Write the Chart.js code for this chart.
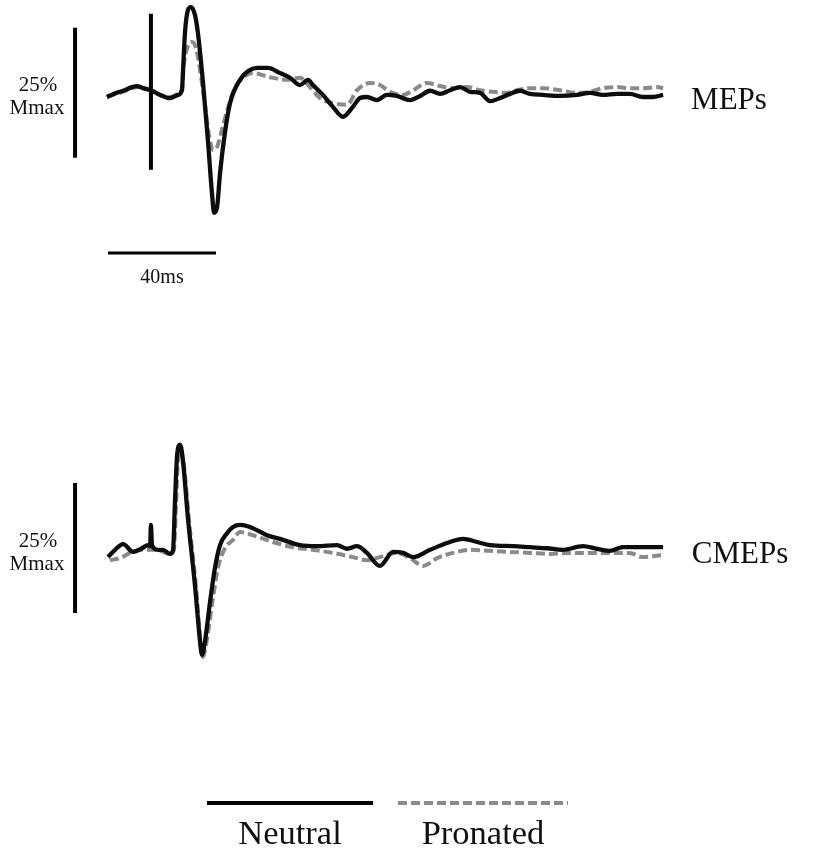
<!DOCTYPE html>
<html>
<head>
<meta charset="utf-8">
<script src="https://cdn.jsdelivr.net/npm/chart.js@4.4.1/dist/chart.umd.min.js"></script>
<style>
  html, body { margin: 0; padding: 0; background: #fff; }
  #wrap { position: relative; width: 819px; height: 850px; overflow: hidden; font-family: "Liberation Serif", "Times New Roman", serif; color: #111; }
  #wrap canvas { position: absolute; left: 0; }
  .lbl { position: absolute; white-space: nowrap; line-height: 1; transform: translate(-50%, -50%); }
</style>
</head>
<body>
<div id="wrap">
  <canvas id="mepChart" width="819" height="420" style="top:0"></canvas>
  <canvas id="cmepChart" width="819" height="430" style="top:420px"></canvas>

  <div class="lbl" style="left:38px;top:84px;font-size:21px">25%</div>
  <div class="lbl" style="left:37px;top:107px;font-size:21px">Mmax</div>
  <div class="lbl" style="left:162px;top:276px;font-size:20px">40ms</div>
  <div class="lbl" style="left:729px;top:98px;font-size:31px">MEPs</div>

  <div class="lbl" style="left:38px;top:540px;font-size:21px">25%</div>
  <div class="lbl" style="left:37px;top:563px;font-size:21px">Mmax</div>
  <div class="lbl" style="left:740px;top:552px;font-size:31px">CMEPs</div>

  <svg style="position:absolute;left:0;top:790px" width="819" height="30">
    <line x1="207" y1="13" x2="373" y2="13" stroke="#000" stroke-width="4"/>
    <line x1="398" y1="13" x2="568" y2="13" stroke="#8a8a8a" stroke-width="4" stroke-dasharray="9 4"/>
  </svg>
  <div class="lbl" style="left:290px;top:832px;font-size:34.5px">Neutral</div>
  <div class="lbl" style="left:483px;top:832px;font-size:34.5px">Pronated</div>
</div>
<script>
// time in ms from trace start, amplitude in % Mmax
const mepNeutralT = [-0.4, 3.3, 5.6, 8.9, 10.7, 13.0, 16.3, 19.3, 23.0, 25.9, 27.4, 27.8, 28.5, 29.6, 30.7, 32.2, 33.3, 35.2, 37.0, 38.5, 39.3, 40.4, 41.5, 43.3, 45.2, 48.9, 51.9, 55.2, 59.3, 63.7, 67.4, 71.1, 74.1, 75.9, 79.6, 83.3, 87.0, 90.7, 93.3, 95.9, 99.6, 103.3, 107.0, 111.9, 115.6, 119.3, 123.0, 126.7, 130.4, 134.1, 137.8, 141.5, 145.2, 148.9, 152.6, 156.3, 161.1, 167.4, 173.7, 178.5, 183.3, 188.5, 193.3, 198.1, 201.9, 205.6];
const mepNeutralV = [0, 0.8, 1.2, 1.9, 2.1, 1.7, 1.2, 0.4, -0.2, 0.4, 1.3, 5.2, 12.3, 16.7, 17.3, 15.8, 12.3, 2.7, -8.3, -18.5, -22.3, -21.2, -14.6, -6.9, -1.2, 3.3, 5.0, 5.6, 5.6, 4.6, 3.7, 2.3, 3.3, 2.3, 0.4, -1.9, -3.8, -1.9, -0.2, 0, -0.6, 0.4, 0.2, -0.6, 0.2, 1.2, 0.6, 1.3, 1.9, 1.0, 0.8, -0.8, -0.2, 0.6, 1.2, 0.6, 0.4, 0.2, 0.4, 0.8, 0.4, 0.6, 0.6, 0, 0, 0.4];

const mepPronatedT = [-0.4, 1.9, 5.6, 8.9, 11.9, 15.6, 19.3, 23.0, 25.9, 27.4, 28.1, 29.3, 31.1, 32.6, 34.1, 35.9, 37.4, 38.9, 40.4, 42.2, 44.4, 47.0, 50.0, 53.7, 60.0, 66.3, 71.1, 74.8, 78.5, 83.3, 88.5, 92.2, 97.0, 100.7, 104.4, 109.3, 113.0, 118.1, 123.0, 127.8, 133.0, 137.8, 142.6, 147.8, 151.5, 156.3, 161.1, 167.4, 173.7, 178.5, 183.3, 188.5, 193.3, 198.1, 203.3, 205.6];
const mepPronatedV = [0, 0.4, 1.0, 1.7, 1.9, 1.3, 0.4, 0, 0.6, 1.7, 6.2, 9.4, 10.6, 9.4, 5.2, -1.5, -7.3, -10.2, -9.6, -6.3, -2.1, 1.7, 3.7, 4.6, 3.8, 3.3, 3.7, 1.9, -0.2, -1.2, -1.5, 1.3, 2.7, 2.3, 1.0, 0.4, 1.3, 2.7, 2.1, 1.7, 1.9, 1.3, 1.0, 0.8, 1.3, 1.7, 1.7, 1.3, 0.8, 1.0, 1.7, 1.9, 1.7, 1.7, 1.9, 1.7];

const cmepNeutralT = [0, 2.6, 5.6, 9.3, 12.6, 14.8, 15.6, 15.9, 16.3, 18.5, 20.4, 23.0, 24.1, 24.8, 25.6, 26.7, 27.8, 29.6, 32.2, 34.1, 34.8, 35.9, 37.8, 39.6, 41.5, 44.1, 46.3, 48.9, 52.6, 58.9, 63.7, 71.1, 77.4, 84.8, 88.5, 92.2, 95.9, 100.7, 105.6, 109.3, 113.0, 119.3, 125.6, 131.5, 136.7, 141.5, 150.0, 156.3, 162.6, 168.5, 175.9, 181.1, 185.9, 190.7, 195.9, 200.7, 205.6];
const cmepNeutralV = [-0.4, 1.0, 2.1, 0.6, 1.3, 1.9, 1.7, 5.8, 1.9, 1.0, 1.0, 0.2, 1.0, 10.2, 19.2, 21.2, 17.9, 7.1, -5.8, -16.7, -19.2, -16.7, -9.0, -2.5, 1.9, 4.2, 5.4, 5.8, 5.4, 3.8, 3.1, 1.9, 1.7, 1.9, 1.2, 1.7, 0.4, -2.1, 0.6, 0.4, -0.4, 1.0, 2.3, 3.1, 2.5, 1.9, 1.7, 1.5, 1.3, 1.0, 1.7, 1.2, 0.8, 1.5, 1.5, 1.5, 1.5];

const cmepPronatedT = [0.7, 4.4, 8.1, 11.9, 16.3, 19.3, 23.0, 24.4, 25.2, 25.9, 27.0, 28.1, 30.0, 32.6, 34.4, 35.2, 36.3, 38.5, 40.7, 43.3, 46.3, 48.9, 53.7, 61.1, 68.5, 75.9, 83.3, 90.7, 95.9, 100.7, 107.0, 111.9, 116.7, 121.9, 127.8, 134.1, 141.5, 148.9, 156.3, 163.7, 171.1, 178.5, 185.9, 193.3, 198.1, 205.6];
const cmepPronatedV = [-1.0, -0.6, 0.4, 1.0, 1.0, 0.8, 0.2, 1.0, 9.6, 18.3, 20.2, 17.3, 6.7, -6.2, -17.3, -19.6, -17.3, -9.6, -2.5, 1.3, 2.9, 4.4, 3.8, 2.5, 1.5, 1.0, 0.4, -0.4, -1.0, -0.4, 0.4, -0.6, -2.1, -0.6, 0.4, 1.0, 0.8, 0.6, 0.4, 0.2, 0.4, 0.4, 0.4, 0.4, -0.4, 0];

// calibration bars and stimulus marker
const scaleAmp = 25;    // % Mmax
const scaleTime = 40;   // ms
const stimTime = 15.9;  // ms
const stimAmp = [16, -14];

// layout: pixels per unit, shared by both panels
const pxPerMs = 2.7;
const pxPerPct = 5.2;
const xMin = -40;
const xMax = xMin + 819 / pxPerMs;

function pairs(t, v) {
  return t.map((x, i) => ({ x: x, y: v[i] }));
}

function trace(data, solid) {
  return {
    data: data,
    borderColor: solid ? '#0d0d0d' : '#8a8a8a',
    borderWidth: solid ? 4.3 : 4,
    borderDash: solid ? [] : [9, 4],
    cubicInterpolationMode: 'monotone',
    pointRadius: 0,
    fill: false
  };
}

function bar(data, width) {
  return {
    data: data,
    borderColor: '#000',
    borderWidth: width,
    borderCapStyle: 'butt',
    pointRadius: 0,
    tension: 0,
    fill: false
  };
}

function makeChart(id, height, baseline, datasets) {
  const yMax = baseline / pxPerPct;
  const yMin = yMax - height / pxPerPct;
  return new Chart(document.getElementById(id).getContext('2d'), {
    type: 'line',
    data: { datasets: datasets },
    options: {
      responsive: false,
      animation: false,
      events: [],
      layout: { padding: 0 },
      plugins: { legend: { display: false }, tooltip: { enabled: false } },
      scales: {
        x: { type: 'linear', min: xMin, max: xMax, display: false },
        y: { type: 'linear', min: yMin, max: yMax, display: false }
      }
    }
  });
}

const ampBarT = -12.2;

makeChart('mepChart', 420, 97, [
  bar([{ x: stimTime, y: stimAmp[0] }, { x: stimTime, y: stimAmp[1] }], 4),
  trace(pairs(mepNeutralT, mepNeutralV), true),
  trace(pairs(mepPronatedT, mepPronatedV), false),
  bar([{ x: ampBarT, y: 13.3 }, { x: ampBarT, y: 13.3 - scaleAmp }], 4),
  bar([{ x: 0, y: -30 }, { x: scaleTime, y: -30 }], 3)
]);

makeChart('cmepChart', 430, 135, [
  trace(pairs(cmepNeutralT, cmepNeutralV), true),
  trace(pairs(cmepPronatedT, cmepPronatedV), false),
  bar([{ x: ampBarT, y: 13.85 }, { x: ampBarT, y: 13.85 - scaleAmp }], 4)
]);
</script>
</body>
</html>
